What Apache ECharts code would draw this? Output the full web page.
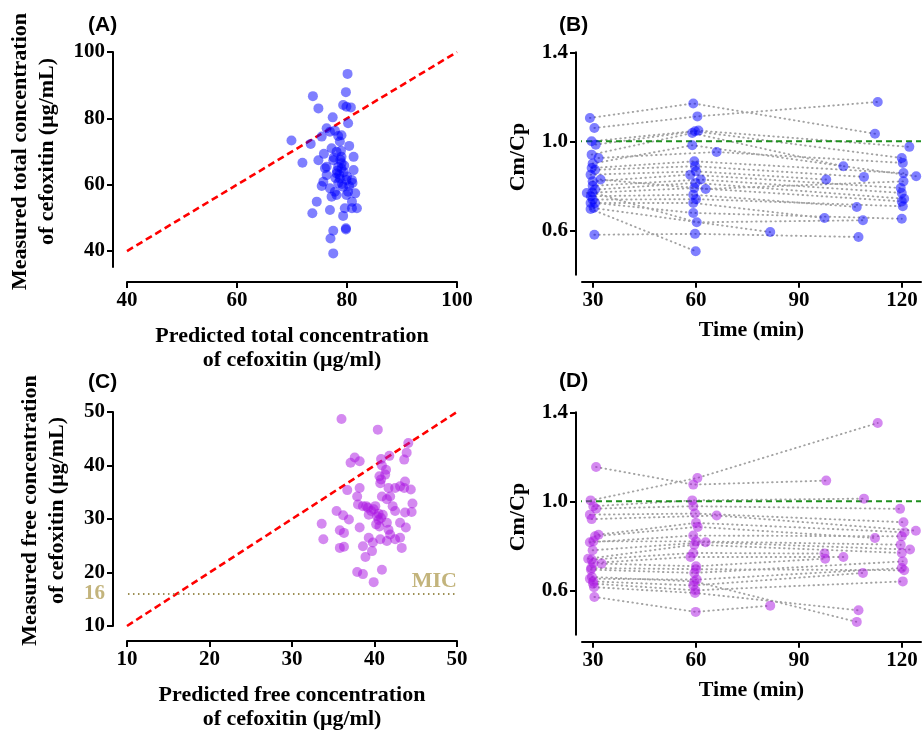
<!DOCTYPE html>
<html><head><meta charset="utf-8">
<script src="https://cdn.jsdelivr.net/npm/echarts@6/dist/echarts.min.js"></script>
<style>html,body{margin:0;padding:0;background:#fff}#c{width:922px;height:732px}</style>
</head><body><div id="c"></div>
<script>
// ---------- Panel A: total concentration (predicted vs measured, μg/mL)
const aPred = [80.1,79.8,73.8,74.8,79.3,79.9,80.7,77.4,80.2,76.3,76.9,77.8,69.9,73.4,75.4,78.4,79.0,78.7,80.4,71.9,74.8,75.8,77.2,78.1,79.0,81.2,81.2,76.3,77.5,78.4,79.0,78.1,76.3,78.7,79.9,80.9,75.4,76.9,77.8,79.3,80.4,80.2,81.5,77.2,78.1,79.9,80.9,74.5,73.7,76.9,79.6,81.8,80.9,79.3,79.8,77.5,77.0,77.5,75.7,78.6,79.0,78.4,79.4,78.8,77.9,79.5,78.2,80.0,79.1,77.6,78.9,79.8,76.0,81.0];
const aMeas = [93.4,87.9,86.7,83.0,84.0,83.5,83.3,80.3,78.5,77.0,76.0,76.3,73.3,72.3,74.5,74.7,74.9,73.0,71.7,66.6,67.4,69.3,71.0,69.9,68.4,68.4,64.4,65.4,67.4,65.4,64.9,63.4,62.9,61.9,61.4,61.4,59.6,58.9,57.9,59.4,59.6,57.9,57.4,56.4,56.9,56.9,54.9,54.9,51.4,52.4,52.9,52.9,52.9,50.6,46.5,46.1,43.8,39.3,60.9,63.0,66.5,60.5,63.8,67.5,62.0,65.8,64.2,62.5,60.2,68.2,70.2,46.9,65.0,60.5];
const aTicksX = [40,60,80,100];
const aTicksY = [40,60,80,100];

// ---------- Panel C: free concentration (predicted vs measured, μg/mL)
const cPred = [36.0,40.4,37.6,37.1,38.2,40.8,41.8,40.9,41.4,41.3,40.8,40.7,41.7,42.5,43.1,43.7,43.6,44.4,44.1,43.9,43.6,40.9,41.9,41.5,42.2,42.5,43.7,44.6,44.5,43.1,43.8,41.5,41.7,41.9,41.5,42.5,43.1,43.3,40.7,40.3,40.5,40.8,40.2,40.6,41.0,39.9,40.9,37.9,38.6,38.9,38.6,39.7,39.8,39.3,38.2,38.0,39.0,39.3,40.1,38.2,37.9,36.7,35.4,36.2,36.9,33.6,33.8,35.8,36.3,35.8,36.3,38.6,39.2,39.9,40.5,39.6,40.6];
const cMeas = [48.7,46.7,41.5,40.5,40.8,41.2,41.8,40.0,39.2,38.3,37.4,36.7,35.8,35.8,36.1,37.0,35.8,35.5,44.2,42.4,41.1,34.2,34.2,33.7,32.4,31.5,31.2,32.9,31.3,29.3,28.4,29.3,28.0,27.1,25.9,26.2,26.5,24.6,26.2,30.5,29.8,30.2,29.0,28.6,30.8,18.2,20.5,20.1,19.7,22.9,24.9,24.0,25.6,26.5,28.4,32.7,32.4,30.8,32.4,35.8,34.2,35.4,31.5,30.7,29.9,29.1,26.2,27.9,27.4,24.6,24.8,32.4,32.1,31.8,31.0,31.5,38.0];
const cTicksX = [10,20,30,40,50];
const cTicksY = [10,20,30,40,50];
const micValue = 16;

// ---------- Panel B: Cm/Cp over time, total (one list per patient: [time, ratio])
const bPatients = [
 [[29.1,1.105],[59.2,1.17],[112.1,1.034]],
 [[30.4,1.06],[60.4,1.112],[112.9,1.177]],
 [[29.6,1.0],[60.7,1.048],[122.1,0.975]],
 [[30.8,0.985],[59.7,1.045],[119.9,0.925]],
 [[29.6,0.94],[58.9,1.037],[102.9,0.888]],
 [[31.6,0.925],[66.0,0.952],[120.2,0.903]],
 [[29.9,0.90],[58.9,0.982],[124.1,0.843]],
 [[29.6,0.88],[59.5,0.91],[120.4,0.857]],
 [[30.6,0.872],[59.7,0.888],[108.9,0.84]],
 [[29.3,0.85],[60.0,0.865],[97.9,0.828]],
 [[32.2,0.828],[62.8,0.786],[120.4,0.82]],
 [[29.9,0.82],[58.3,0.85],[119.6,0.79]],
 [[29.9,0.80],[61.4,0.828],[119.9,0.768]],
 [[30.6,0.783],[59.8,0.813],[120.6,0.742]],
 [[28.2,0.768],[59.5,0.79],[119.9,0.73]],
 [[29.4,0.753],[59.2,0.76],[106.8,0.705]],
 [[29.9,0.738],[60.0,0.74],[120.2,0.708]],
 [[29.3,0.723],[59.2,0.723],[97.4,0.655]],
 [[30.6,0.723],[59.2,0.678],[119.9,0.652]],
 [[29.3,0.696],[59.9,0.506]],
 [[30.4,0.58],[59.7,0.584],[107.3,0.57]],
 [[29.8,0.77],[60.2,0.636],[108.6,0.645]],
 [[30.2,0.70],[81.6,0.592]]
];
// ---------- Panel D: Cm/Cp over time, free
const dPatients = [
 [[30.9,1.154],[59.2,1.075],[97.9,1.093]],
 [[29.3,1.004],[60.4,1.105],[112.9,1.352]],
 [[30.1,0.978],[58.9,1.004],[108.9,1.012]],
 [[30.9,0.967],[59.2,0.978],[119.4,0.966]],
 [[29.1,0.94],[59.7,0.945],[120.4,0.906]],
 [[29.6,0.92],[66.0,0.936],[124.0,0.868]],
 [[31.6,0.85],[60.0,0.903],[120.7,0.861]],
 [[30.6,0.843],[60.5,0.885],[112.1,0.835]],
 [[29.1,0.816],[59.2,0.846],[119.9,0.843]],
 [[30.1,0.82],[60.0,0.82],[119.6,0.805]],
 [[29.9,0.78],[62.8,0.816],[122.3,0.783]],
 [[28.6,0.742],[59.5,0.805],[119.9,0.768]],
 [[29.6,0.738],[59.2,0.768],[97.4,0.765]],
 [[30.1,0.723],[58.4,0.75],[102.9,0.75]],
 [[32.5,0.72],[60.0,0.708],[97.6,0.742]],
 [[29.4,0.693],[59.5,0.678],[120.2,0.73]],
 [[29.1,0.652],[60.2,0.648],[119.9,0.70]],
 [[30.1,0.64],[59.2,0.622],[108.6,0.678]],
 [[30.3,0.614],[59.7,0.588],[107.3,0.51]],
 [[30.4,0.57],[59.9,0.503],[81.6,0.531]],
 [[29.7,0.66],[59.5,0.64],[106.8,0.458]],
 [[29.5,0.70],[60.0,0.695],[120.6,0.69]],
 [[30.0,0.63],[59.8,0.60],[120.2,0.64]]
];
const timeTicks = [30,60,90,120];
const ratioTicks = [0.6,1.0,1.4];
const ratioRef = 1.0;

// ---------- styling helpers
const serif = 'Liberation Serif';
const nameStyle = (lh, pad) => ({fontFamily:serif, fontWeight:'bold', fontSize:22, color:'#000', lineHeight:lh, padding:pad});
const labelBase = {fontFamily:serif, fontWeight:'bold', fontSize:21, color:'#000', margin:8};
const lineBase = {show:true, onZero:false, lineStyle:{color:'#000', width:2}};
function xAx(g, min, max, ticks, offset, name, gap){
  return {type:'value', gridIndex:g, min, max, offset, name, nameLocation:'middle', nameGap:gap,
    nameTextStyle:nameStyle(24, [0,0,0,0]),
    axisLine:lineBase,
    axisTick:{show:true, length:6, customValues:ticks, lineStyle:{color:'#000', width:2}},
    axisLabel:Object.assign({customValues:ticks}, labelBase),
    splitLine:{show:false}};
}
function yAx(g, min, max, ticks, offset, name, gap, shiftUp, lh, labels, fmt){
  const lab = Object.assign({customValues:labels || ticks}, labelBase);
  if (fmt) { lab.formatter = fmt; lab.rich = {m:{fontFamily:serif, fontWeight:'bold', fontSize:21, color:'#c3b47c'}}; }
  return {type:'value', gridIndex:g, min, max, offset, name, nameLocation:'middle', nameGap:gap,
    nameRotate:90,
    nameTextStyle:nameStyle(lh, [0,0,0,shiftUp*2]),
    axisLine:lineBase,
    axisTick:{show:true, length:6, customValues:ticks, lineStyle:{color:'#000', width:2}},
    axisLabel:lab,
    splitLine:{show:false}};
}
const zip = (xs, ys) => xs.map((x,i) => [x, ys[i]]);
const blue = {color:'#0000ff', opacity:0.5};
const purple = {color:'#aa14e1', opacity:0.5};
const oneDecimal = v => v.toFixed(1);

// x value where the detached y axis line sits (reference lines start at the axis, like the original)
const tAxisStart = 25.05;
const tAxisEnd = 125.5;
const cAxisStart = 8.3;

function patientLines(patients, g){
  return patients.map(p => ({type:'line', xAxisIndex:g, yAxisIndex:g, data:p, symbol:'none', silent:true, z:1,
    lineStyle:{color:'#a3a3a3', width:1.9, type:[0.6,4.2], cap:'round'}}));
}
function refLine(g){
  return {type:'line', xAxisIndex:g, yAxisIndex:g, data:[[tAxisStart, ratioRef],[tAxisEnd, ratioRef]],
    symbol:'none', silent:true, clip:false, z:1,
    lineStyle:{color:'#1f901f', width:2, type:[6,4]}};
}

const option = {
  animation:false,
  backgroundColor:'#fff',
  grid:[
    {left:127, top:52, width:330, height:215},
    {left:582, top:52.3, width:339, height:222.5},
    {left:127, top:412, width:330, height:215},
    {left:582, top:412.3, width:339, height:222.5}
  ],
  xAxis:[
    xAx(0, 40, 100, aTicksX, 15, 'Predicted total concentration\nof cefoxitin (μg/ml)', 42),
    xAx(1, 26.8, tAxisEnd, timeTicks, 7, 'Time (min)', 37),
    xAx(2, 10, 50, cTicksX, 15, 'Predicted free concentration\nof cefoxitin (μg/ml)', 42),
    xAx(3, 26.8, tAxisEnd, timeTicks, 7, 'Time (min)', 37)
  ],
  yAxis:[
    yAx(0, 35.2, 100, aTicksY, 14, 'Measured total concentration\nof cefoxitin (μg/mL)', 52, 8, 27),
    yAx(1, 0.4, 1.4, ratioTicks, 6, 'Cm/Cp', 46, 6.5, 24, null, oneDecimal),
    yAx(2, 10, 50, cTicksY, 14, 'Measured free concentration\nof cefoxitin (μg/mL)', 42, 8.5, 27,
        [10,16,20,30,40,50], v => v === micValue ? '{m|' + v + '}' : String(v)),
    yAx(3, 0.4, 1.4, ratioTicks, 6, 'Cm/Cp', 46, 6.5, 24, null, oneDecimal)
  ],
  graphic:[
    {type:'text', style:{x:88, y:25.5, text:'(A)', font:'bold 21px "Liberation Sans"', fill:'#000', verticalAlign:'middle'}},
    {type:'text', style:{x:559, y:25.5, text:'(B)', font:'bold 21px "Liberation Sans"', fill:'#000', verticalAlign:'middle'}},
    {type:'text', style:{x:88, y:382, text:'(C)', font:'bold 21px "Liberation Sans"', fill:'#000', verticalAlign:'middle'}},
    {type:'text', style:{x:559, y:381, text:'(D)', font:'bold 21px "Liberation Sans"', fill:'#000', verticalAlign:'middle'}}
  ],
  series:[
    // A
    {type:'line', xAxisIndex:0, yAxisIndex:0, data:[[aTicksX[0],aTicksX[0]],[aTicksX[3],aTicksX[3]]], symbol:'none', silent:true, z:1,
      lineStyle:{color:'#ff0000', width:2.6, type:[7,4]}},
    {type:'scatter', xAxisIndex:0, yAxisIndex:0, data:zip(aPred, aMeas), symbolSize:10, itemStyle:blue, z:2},
    // B
    ...patientLines(bPatients, 1),
    refLine(1),
    {type:'scatter', xAxisIndex:1, yAxisIndex:1, data:bPatients.flat(), symbolSize:10, itemStyle:blue, z:2},
    // C
    {type:'line', xAxisIndex:2, yAxisIndex:2, data:[[cTicksX[0],cTicksX[0]],[cTicksX[4],cTicksX[4]]], symbol:'none', silent:true, z:1,
      lineStyle:{color:'#ff0000', width:2.6, type:[7,4]}},
    {type:'line', xAxisIndex:2, yAxisIndex:2, data:[[cAxisStart, micValue],[cTicksX[4], micValue]], symbol:'none', silent:true, clip:false, z:1,
      lineStyle:{color:'#9d8f55', width:2, type:[1.5,3.5]},
      endLabel:{show:false},
      markPoint:{silent:true, symbol:'circle', symbolSize:0, animation:false,
        label:{show:true, formatter:'MIC', position:[0,0], align:'right', verticalAlign:'bottom', offset:[0,-2],
          fontFamily:serif, fontWeight:'bold', fontSize:22, color:'#c3b47c'},
        data:[{coord:[cTicksX[4], micValue]}]}},
    {type:'scatter', xAxisIndex:2, yAxisIndex:2, data:zip(cPred, cMeas), symbolSize:10, itemStyle:purple, z:2},
    // D
    ...patientLines(dPatients, 3),
    refLine(3),
    {type:'scatter', xAxisIndex:3, yAxisIndex:3, data:dPatients.flat(), symbolSize:10, itemStyle:purple, z:2}
  ]
};
const chart = echarts.init(document.getElementById('c'), null, {renderer:'canvas'});
chart.setOption(option);
</script></body></html>
